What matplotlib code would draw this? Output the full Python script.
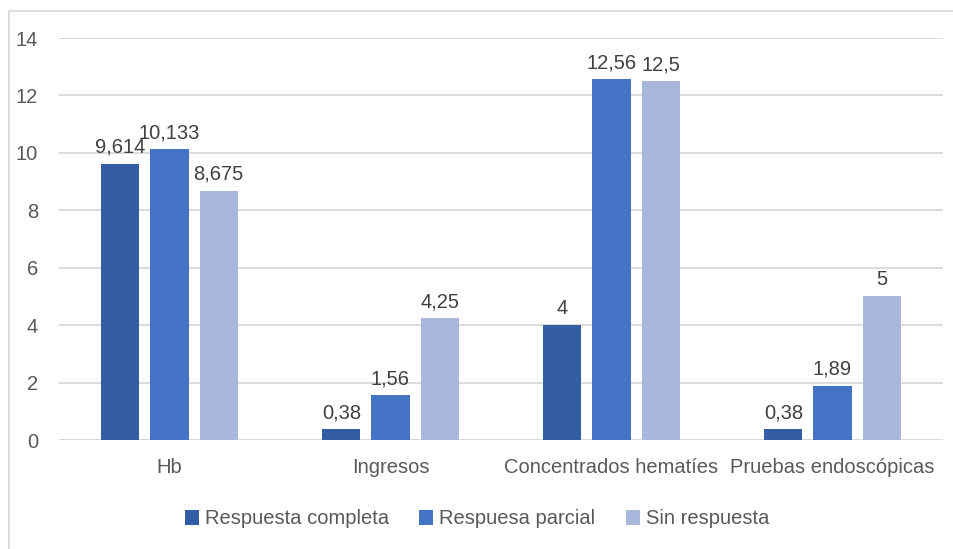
import matplotlib
matplotlib.use("Agg")
import matplotlib.pyplot as plt
from matplotlib import font_manager
from matplotlib.patches import Rectangle
import numpy as np

categories = ["Hb", "Ingresos", "Concentrados hematíes", "Pruebas endoscópicas"]
series_names = ["Respuesta completa", "Respuesa parcial", "Sin respuesta"]
completa = [9.614, 0.38, 4, 0.38]
parcial = [10.133, 1.56, 12.56, 1.89]
sin_resp = [8.675, 4.25, 12.5, 5]
labels_completa = ["9,614", "0,38", "4", "0,38"]
labels_parcial = ["10,133", "1,56", "12,56", "1,89"]
labels_sin = ["8,675", "4,25", "12,5", "5"]
yticks = [0, 2, 4, 6, 8, 10, 12, 14]

names = {f.name for f in font_manager.fontManager.ttflist}
fam = "Liberation Sans Narrow" if "Liberation Sans Narrow" in names else "Liberation Sans"
plt.rcParams['font.family'] = [fam, 'DejaVu Sans']

colors = ["#335EA6", "#4472C4", "#A9B7DB"]
text_color = "#595959"

fig = plt.figure(figsize=(9.54, 5.49), dpi=100)
ax = fig.add_axes([59/954, (549-440)/549, (943-59)/954, (440-38)/549])

x = np.arange(len(categories))
w = 0.172
off = 0.222
all_series = [completa, parcial, sin_resp]
all_labels = [labels_completa, labels_parcial, labels_sin]
for i, (vals, labs) in enumerate(zip(all_series, all_labels)):
    bars = ax.bar(x + (i - 1) * off, vals, width=w, color=colors[i], label=series_names[i], zorder=3)
    for b, lab in zip(bars, labs):
        ax.annotate(lab, (b.get_x() + b.get_width() / 2, b.get_height()),
                    xytext=(0, 5), textcoords="offset points", ha="center", va="bottom",
                    fontsize=14.5, color="#404040")

ax.set_xlim(-0.5, 3.5)
ax.set_ylim(0, 14)
ax.set_yticks(yticks)
ax.set_yticklabels([str(t) for t in yticks])
ax.set_xticks(x)
ax.set_xticklabels(categories)
ax.tick_params(axis='y', length=0, pad=15, labelsize=14.5, labelcolor=text_color)
ax.tick_params(axis='x', length=0, pad=13, labelsize=14.5, labelcolor=text_color)
ax.grid(axis='y', color="#D9D9D9", linewidth=1.3, zorder=0)
for s in ax.spines.values():
    s.set_visible(False)
ax.axhline(0, color="#D9D9D9", linewidth=1.3, zorder=2)

leg = fig.legend(loc="center", bbox_to_anchor=(0.5, (549-519)/549), ncol=3, frameon=False,
                 fontsize=14.5, handlelength=0.7, handleheight=0.7, handletextpad=0.3,
                 columnspacing=1.5, labelcolor=text_color)

fig.patches.append(Rectangle((9/954, -0.05), 1.0, (549-11)/549 + 0.05,
                             transform=fig.transFigure, fill=False,
                             edgecolor="#D9D9D9", linewidth=1.3))

fig.savefig("out.png", dpi=100)
